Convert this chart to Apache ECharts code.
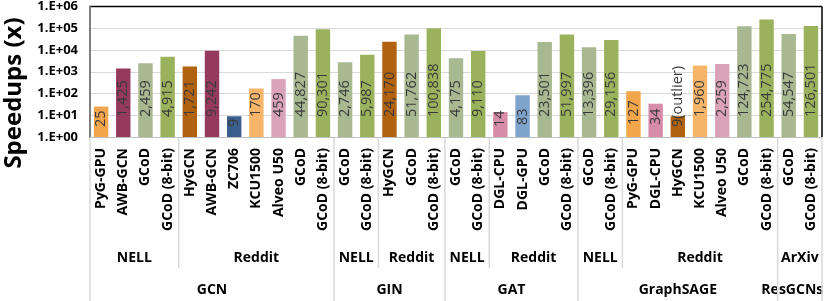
<!DOCTYPE html>
<html><head><meta charset="utf-8">
<script src="https://cdn.jsdelivr.net/npm/echarts@6/dist/echarts.min.js"></script>
<style>html,body{margin:0;padding:0;background:#fff}#c{width:830px;height:301px}</style>
</head><body><div id="c"></div>
<script>
const categories = ['PyG-GPU','AWB-GCN','GCoD','GCoD (8-bit)','HyGCN','AWB-GCN','ZC706','KCU1500','Alveo U50','GCoD','GCoD (8-bit)',
  'GCoD','GCoD (8-bit)','HyGCN','GCoD','GCoD (8-bit)',
  'GCoD','GCoD (8-bit)','DGL-CPU','DGL-GPU','GCoD','GCoD (8-bit)',
  'GCoD','GCoD (8-bit)','PyG-GPU','DGL-CPU','HyGCN','KCU1500','Alveo U50','GCoD','GCoD (8-bit)',
  'GCoD','GCoD (8-bit)'];
const values = [25,1425,2459,4915,1721,9242,9,170,459,44827,90301,
  2746,5987,24170,51762,100838,
  4175,9110,14,83,23501,51997,
  13396,29156,127,34,9,1960,2259,124723,254775,
  54547,126501];
const labelOverrides = {26: '9(outlier)'};
const datasetNames = ['NELL','Reddit','NELL','Reddit','NELL','Reddit','NELL','Reddit','ArXiv'];
const datasetSizes = [4,7,2,3,2,4,2,7,2];
const modelNames = ['GCN','GIN','GAT','GraphSAGE','ResGCNs'];
const modelSizes = [11,5,6,9,2];
const colorMap = {
  'PyG-GPU':'#F2A54A','AWB-GCN':'#953A5C','GCoD':'#A8B992','GCoD (8-bit)':'#9BB25D',
  'HyGCN':'#B1620F','ZC706':'#3B5E8C','KCU1500':'#F7B56A','Alveo U50':'#DBA3B8',
  'DGL-CPU':'#D78DA8','DGL-GPU':'#7EA4CC'
};
const FONT = '"Open Sans", sans-serif';
function labelDistance(v){ return v < 30 ? 10 : (v < 150 ? 12 : 20); }

const chart = echarts.init(document.getElementById('c'));
const seriesData = values.map((v,i)=>({value:v, itemStyle:{color:colorMap[categories[i]]},
  label:{offset:[labelDistance(v) - 5, 0]}}));
chart.setOption({
  animation:false,
  grid:{left:90,right:8,top:5,bottom:164,show:false},
  xAxis:{type:'category',data:categories,axisTick:{show:false},
    axisLine:{lineStyle:{color:'#bfbfbf',width:1}},
    axisLabel:{rotate:90,margin:11,interval:0,fontFamily:FONT,fontWeight:'bold',fontSize:14,color:'#000'}},
  yAxis:{type:'log',logBase:10,min:1,max:1e6,splitNumber:6,
    axisLine:{show:true,lineStyle:{color:'#7f7f7f',width:2}},axisTick:{show:false},
    splitLine:{lineStyle:{color:'#d9d9d9'}},
    axisLabel:{formatter:v=>'1.E+'+String(Math.round(Math.log10(v))).padStart(2,'0'),
      fontFamily:FONT,fontWeight:'bold',fontSize:13,color:'#000',margin:12}},
  series:[{type:'bar',data:seriesData,barWidth:'65%',
    label:{show:true,position:'insideBottom',distance:5,rotate:90,align:'left',verticalAlign:'middle',
      fontFamily:FONT,fontSize:14.5,color:'#3a3a3a',
      formatter:p=>labelOverrides[p.dataIndex]||p.value.toLocaleString('en-US')}}]
});

const c0 = chart.convertToPixel({xAxisIndex:0},0);
const c1 = chart.convertToPixel({xAxisIndex:0},1);
const bw = c1-c0;
const edge = i => c0 - bw/2 + i*bw;
const yBottom = chart.convertToPixel({yAxisIndex:0},1);
const yTop = chart.convertToPixel({yAxisIndex:0},1e6);
const N = categories.length;
const g = [];
g.push({type:'line',shape:{x1:edge(0),y1:yTop,x2:edge(N),y2:yTop},style:{stroke:'#000',lineWidth:1.5}});
g.push({type:'line',shape:{x1:edge(N),y1:yTop,x2:edge(N),y2:yBottom},style:{stroke:'#000',lineWidth:1.5}});
const modelEdges = new Set();
let acc = 0; modelEdges.add(0);
modelSizes.forEach((s,k)=>{
  const a = acc; acc += s; modelEdges.add(acc);
  let cx = (edge(a)+edge(acc))/2;
  const w = modelNames[k].length * 8.2;
  cx = Math.min(cx, 821 - w/2);
  g.push({type:'text',x:cx,y:290,style:{text:modelNames[k],font:'bold 14px '+FONT,fill:'#000',align:'center',verticalAlign:'middle'}});
});
modelEdges.forEach(i=>{
  g.push({type:'line',shape:{x1:edge(i),y1:yBottom+1,x2:edge(i),y2:301},style:{stroke:'#d9d9d9',lineWidth:1.5}});
});
acc = 0;
datasetSizes.forEach((s,k)=>{
  const a = acc; acc += s;
  const cx = (edge(a)+edge(acc))/2;
  g.push({type:'text',x:cx,y:258,style:{text:datasetNames[k],font:'bold 14px '+FONT,fill:'#000',align:'center',verticalAlign:'middle'}});
  if(!modelEdges.has(acc)){
    g.push({type:'line',shape:{x1:edge(acc),y1:yBottom+1,x2:edge(acc),y2:268},style:{stroke:'#d9d9d9',lineWidth:1.5}});
  }
});
g.push({type:'text',x:14,y:93,rotation:Math.PI/2,style:{text:'Speedups (x)',font:'bold 24px '+FONT,fill:'#000',align:'center',verticalAlign:'middle'}});
chart.setOption({graphic:g});
</script></body></html>
